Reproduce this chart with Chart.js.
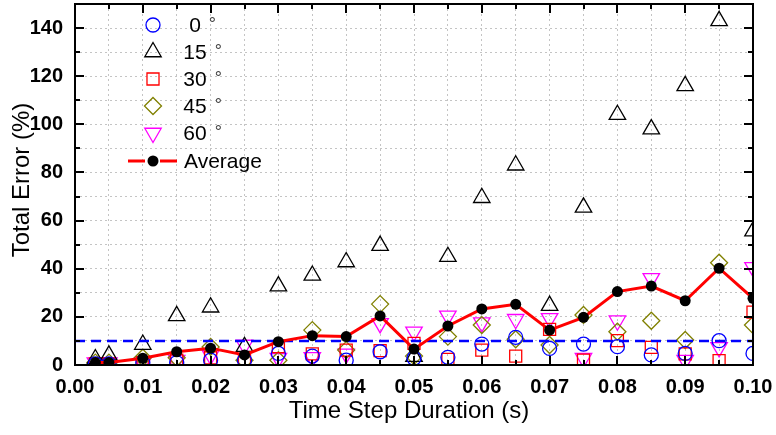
<!DOCTYPE html>
<html>
<head>
<meta charset="utf-8">
<script src="https://cdn.jsdelivr.net/npm/chart.js@4.4.1/dist/chart.umd.min.js"></script>
<style>
  body { margin: 0; background: #fff; }
</style>
</head>
<body>
<canvas id="myChart" width="776" height="435"></canvas>
<script>
// time step durations (s)
const steps = [0.003, 0.005, 0.01, 0.015, 0.02, 0.025, 0.03, 0.035, 0.04, 0.045, 0.05,
  0.055, 0.06, 0.065, 0.07, 0.075, 0.08, 0.085, 0.09, 0.095, 0.1]

// total error (%) per angle
const err0 = [0.5, 0.5, 1, 1, 2, 2, 4.8, 3.7, 2, 5.5, 2.8, 3.2, 8.7, 11.5, 6.9, 8.7, 7.6, 4.2, 4.8, 10.1, 4.8]
const err15 = [2.5, 4, 8.5, 20.4, 24, 7.6, 32.8, 37.2, 42.8, 49.6, 3.5, 45, 69.5, 83, 24.7, 65.5, 104, 98, 116, 143, 55.6]
const err30 = [0.5, 0.5, 1, 2, 3, 2, 7.6, 4.6, 6.2, 6, 9, 2.3, 6.2, 3.7, 14.8, 2, 10.1, 7.3, 4.6, 1.8, 22]
const err45 = [1, 1, 3, 3, 7.5, 2, 2, 14.5, 6.2, 25.3, 3.7, 11.8, 16.6, 10.7, 8.3, 20.8, 13.8, 18.4, 10.4, 42.5, 16.6]
const err60 = [1, 1, 1, 2, 4, 8.3, 2.8, 3.2, 4.6, 17.3, 13.8, 20.4, 17.6, 19, 19.4, 2.8, 18.4, 36, 2, 7.3, 40.6]
const errAvg = [1, 1, 2.8, 5.5, 7, 4.2, 9.7, 12.2, 11.8, 20.4, 6.6, 16.2, 23.3, 25.2, 14.5, 19.8, 30.5, 32.8, 26.7, 40.2, 27.7]

const threshold = 10
const xRange = [0, 0.1]
const yRange = [0, 150]

const FONT = '"Liberation Sans", Arial, sans-serif'

const pts = arr => arr.map((v, i) => ({ x: steps[i], y: v }))

const angleSeries = [
  { label: '0', data: err0, color: '#0000ff', style: 'circle', radius: 7, rotation: 0 },
  { label: '15', data: err15, color: '#000000', style: 'triangle', radius: 9.5, rotation: 0 },
  { label: '30', data: err30, color: '#ff0000', style: 'rect', radius: 8.5, rotation: 0 },
  { label: '45', data: err45, color: '#808000', style: 'rectRot', radius: 8.5, rotation: 0 },
  { label: '60', data: err60, color: '#ff00ff', style: 'triangle', radius: 9.5, rotation: 180 }
]

const datasets = [{
  label: 'Average',
  data: pts(errAvg),
  showLine: true,
  borderColor: '#ff0000',
  borderWidth: 3,
  pointStyle: 'circle',
  pointRadius: 5.5,
  pointBackgroundColor: '#000',
  pointBorderWidth: 0,
  clip: 0,
  order: 0
}, {
  label: 'limit',
  data: [{ x: xRange[0], y: threshold }, { x: xRange[1], y: threshold }],
  showLine: true,
  borderColor: '#0000ff',
  borderWidth: 2.5,
  borderDash: [10, 6],
  pointRadius: 0,
  clip: 0,
  order: 1
}]

angleSeries.forEach((s, i) => {
  datasets.push({
    label: s.label + ' °',
    data: pts(s.data),
    pointStyle: s.style,
    pointRadius: s.radius,
    rotation: s.rotation,
    pointBorderColor: s.color,
    pointBackgroundColor: 'rgba(0,0,0,0)',
    pointBorderWidth: 1.3,
    showLine: false,
    clip: 0,
    order: 2 + i
  })
})

// frame with inward ticks, axis titles and legend
const decorations = {
  id: 'decorations',
  afterDatasetsDraw(chart) {
    const ctx = chart.ctx
    const a = chart.chartArea
    const xs = chart.scales.x
    const ys = chart.scales.y
    ctx.save()
    ctx.strokeStyle = '#000'
    ctx.lineWidth = 2
    ctx.strokeRect(a.left, a.top, a.right - a.left, a.bottom - a.top)
    ctx.beginPath()
    xs.ticks.forEach(t => {
      const px = Math.round(xs.getPixelForValue(t.value))
      const major = Math.round(t.value * 1000) % 10 === 0
      const len = major ? 9 : 5
      ctx.moveTo(px, a.bottom); ctx.lineTo(px, a.bottom - len)
      ctx.moveTo(px, a.top); ctx.lineTo(px, a.top + len)
    })
    ys.ticks.forEach(t => {
      const py = Math.round(ys.getPixelForValue(t.value))
      const major = t.value % 20 === 0
      const len = major ? 9 : 5
      ctx.moveTo(a.left, py); ctx.lineTo(a.left + len, py)
      ctx.moveTo(a.right, py); ctx.lineTo(a.right - len, py)
    })
    ctx.stroke()
    ctx.restore()
  },
  afterDraw(chart) {
    const ctx = chart.ctx
    ctx.save()
    ctx.fillStyle = '#000'
    ctx.font = '24px ' + FONT
    ctx.textAlign = 'center'
    ctx.textBaseline = 'middle'
    ctx.fillText('Time Step Duration (s)', 409, 411)
    ctx.translate(22, 180)
    ctx.rotate(-Math.PI / 2)
    ctx.fillText('Total Error (%)', 0, 0)
    ctx.restore()

    // legend
    ctx.save()
    const lx = 153
    const rows = [25, 52, 79, 106, 133]
    angleSeries.forEach((s, i) => {
      const y = rows[i]
      ctx.strokeStyle = s.color
      ctx.lineWidth = 1.3
      ctx.beginPath()
      const r = s.radius
      if (s.style === 'circle') {
        ctx.arc(lx, y, r, 0, Math.PI * 2)
      } else if (s.style === 'triangle') {
        const dir = s.rotation ? -1 : 1
        ctx.moveTo(lx, y - dir * r)
        ctx.lineTo(lx + r * Math.sin(Math.PI * 2 / 3), y + dir * r / 2)
        ctx.lineTo(lx - r * Math.sin(Math.PI * 2 / 3), y + dir * r / 2)
        ctx.closePath()
      } else if (s.style === 'rect') {
        const h = r * Math.SQRT1_2
        ctx.rect(lx - h, y - h, 2 * h, 2 * h)
      } else {
        ctx.moveTo(lx - r, y); ctx.lineTo(lx, y - r); ctx.lineTo(lx + r, y); ctx.lineTo(lx, y + r)
        ctx.closePath()
      }
      ctx.stroke()
      ctx.fillStyle = '#000'
      ctx.font = '21px ' + FONT
      ctx.textBaseline = 'middle'
      ctx.textAlign = 'center'
      ctx.fillText(s.label, 195, y + 1)
      const w = ctx.measureText(s.label).width
      ctx.textAlign = 'left'
      ctx.font = '18px ' + FONT
      ctx.fillStyle = '#444'
      ctx.fillText('°', 195 + w / 2 + 8, y)
    })
    const ay = 161
    ctx.strokeStyle = '#ff0000'
    ctx.lineWidth = 3
    ctx.setLineDash([17, 15])
    ctx.beginPath()
    ctx.moveTo(128, ay); ctx.lineTo(177, ay)
    ctx.stroke()
    ctx.setLineDash([])
    ctx.fillStyle = '#000'
    ctx.beginPath()
    ctx.arc(lx, ay, 5.5, 0, Math.PI * 2)
    ctx.fill()
    ctx.font = '21px ' + FONT
    ctx.textAlign = 'left'
    ctx.textBaseline = 'middle'
    ctx.fillText('Average', 184, ay + 1)
    ctx.restore()
  }
}

const ctx = document.getElementById('myChart').getContext('2d')
const myChart = new Chart(ctx, {
  type: 'scatter',
  data: { datasets: datasets },
  options: {
    responsive: false,
    animation: false,
    layout: { autoPadding: false, padding: { top: 4, right: 23, left: 0, bottom: 0 } },
    plugins: {
      legend: { display: false },
      tooltip: { enabled: false }
    },
    scales: {
      x: {
        type: 'linear',
        min: xRange[0],
        max: xRange[1],
        afterFit: s => {
          s.height = 70
          s.paddingLeft = 0
          s.paddingRight = 0
        },
        grid: { color: '#c4c4c4', lineWidth: 1, drawTicks: false },
        border: { display: false, dash: [2, 3] },
        ticks: {
          stepSize: 0.005,
          padding: 10,
          autoSkip: false,
          maxRotation: 0,
          color: '#000',
          font: { family: FONT, size: 20, weight: 'bold' },
          callback: v => Math.round(v * 1000) % 10 === 0 ? v.toFixed(2) : ''
        }
      },
      y: {
        min: yRange[0],
        max: yRange[1],
        afterFit: s => {
          s.width = 75
          s.paddingTop = 0
          s.paddingBottom = 0
        },
        grid: { color: '#c4c4c4', lineWidth: 1, drawTicks: false },
        border: { display: false, dash: [2, 3] },
        ticks: {
          stepSize: 10,
          padding: 12,
          autoSkip: false,
          color: '#000',
          font: { family: FONT, size: 20, weight: 'bold' },
          callback: v => (v % 20 === 0 ? String(v) : '')
        }
      }
    }
  },
  plugins: [decorations]
})
</script>
</body>
</html>
